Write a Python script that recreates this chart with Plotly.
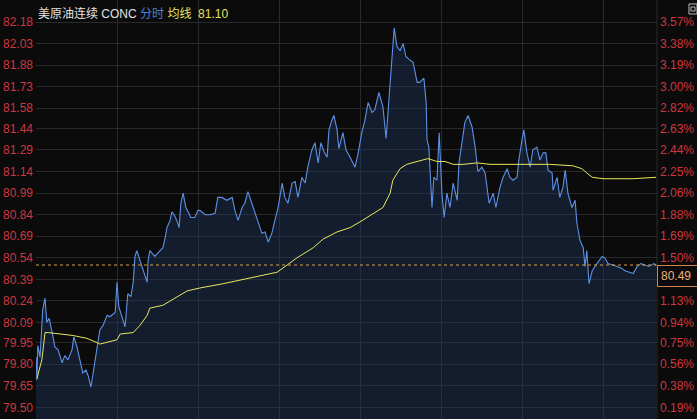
import plotly.graph_objects as go

# ---------------- data ----------------
title_name = "美原油连续 CONC"
mode_label = "分时"
avg_label = "均线"
avg_last = "81.10"
last_price = 80.49
session_minutes = 1380          # 23h session, minutes from open
grid_minutes = [180, 360, 540, 720, 900, 1080, 1260]

minutes = [
    0, 2, 4, 9, 15, 20, 24, 29, 36, 42,
    49, 58, 64, 71, 80, 84, 91, 98, 104, 111,
    116, 122, 127, 133, 138, 142, 149, 158, 164, 176,
    180, 184, 191, 198, 204, 211, 216, 220, 224, 231,
    238, 247, 249, 253, 264, 276, 282, 287, 291, 298,
    302, 307, 313, 318, 322, 327, 333, 338, 344, 353,
    360, 364, 376, 387, 398, 404, 413, 424, 436, 442,
    449, 458, 464, 471, 480, 487, 493, 502, 509, 516,
    524, 531, 538, 547, 553, 560, 569, 576, 582, 591,
    598, 604, 613, 620, 627, 633, 640, 647, 651, 658,
    662, 669, 673, 682, 689, 698, 709, 716, 724, 731,
    738, 747, 753, 762, 771, 778, 784, 791, 796, 802,
    809, 816, 822, 829, 838, 847, 853, 862, 867, 869,
    873, 880, 884, 891, 896, 902, 907, 913, 920, 927,
    936, 940, 947, 953, 960, 969, 976, 982, 991, 998,
    1007, 1016, 1022, 1031, 1038, 1047, 1053, 1060, 1069, 1073,
    1080, 1084, 1091, 1098, 1104, 1113, 1120, 1127, 1133, 1138,
    1147, 1149, 1158, 1164, 1171, 1176, 1182, 1191, 1198, 1202,
    1209, 1216, 1220, 1224, 1229, 1236, 1242, 1249, 1258, 1264,
    1271, 1282, 1291, 1300, 1309, 1320, 1327, 1336, 1344, 1353,
    1362, 1373, 1378,
]

prices = [
    79.85, 79.69, 79.93, 79.85, 80.18, 80.26, 80.09, 80.12, 80.02, 79.92,
    79.90, 79.81, 79.86, 79.83, 79.90, 79.99, 79.92, 79.83, 79.74, 79.76,
    79.72, 79.64, 79.74, 79.83, 79.95, 80.04, 80.07, 80.14, 80.13, 80.16,
    80.37, 80.20, 80.13, 80.06, 80.29, 80.27, 80.37, 80.55, 80.59, 80.52,
    80.45, 80.37, 80.52, 80.59, 80.55, 80.59, 80.61, 80.68, 80.75, 80.80,
    80.86, 80.84, 80.80, 80.75, 80.92, 80.99, 80.89, 80.86, 80.82, 80.82,
    80.87, 80.87, 80.84, 80.84, 80.85, 80.96, 80.96, 80.94, 80.96, 80.87,
    80.80, 80.89, 80.92, 81.00, 80.92, 80.85, 80.80, 80.71, 80.72, 80.65,
    80.71, 80.80, 80.89, 81.06, 80.96, 80.92, 81.06, 81.07, 80.96, 81.10,
    81.06, 81.17, 81.29, 81.34, 81.20, 81.34, 81.28, 81.24, 81.43, 81.50,
    81.53, 81.43, 81.30, 81.41, 81.29, 81.24, 81.17, 81.27, 81.41, 81.50,
    81.62, 81.55, 81.57, 81.69, 81.59, 81.37, 81.64, 81.90, 82.14, 82.01,
    81.98, 82.03, 81.94, 81.92, 81.90, 81.76, 81.76, 81.79, 81.62, 81.36,
    81.31, 80.89, 81.10, 81.08, 81.41, 80.99, 80.82, 80.99, 80.89, 81.06,
    80.94, 81.20, 81.36, 81.48, 81.53, 81.45, 81.31, 81.14, 81.17, 81.13,
    80.92, 80.99, 80.89, 81.03, 81.10, 81.16, 81.10, 81.08, 81.10, 81.22,
    81.36, 81.43, 81.27, 81.17, 81.29, 81.31, 81.22, 81.27, 81.27, 81.15,
    81.13, 81.01, 81.10, 80.96, 81.03, 81.15, 80.99, 80.89, 80.94, 80.78,
    80.66, 80.61, 80.48, 80.59, 80.36, 80.45, 80.48, 80.51, 80.55, 80.54,
    80.50, 80.49, 80.48, 80.47, 80.45, 80.44, 80.43, 80.48, 80.50, 80.49,
    80.48, 80.50, 80.49,
]

avg_minutes = [
    2, 13, 20, 27, 82, 113, 136, 142, 180, 187,
    216, 231, 247, 253, 282, 313, 336, 364, 416, 491,
    536, 558, 580, 616, 638, 669, 698, 720, 736, 749,
    771, 787, 793, 809, 824, 847, 871, 891, 909, 927,
    949, 980, 1009, 1047, 1142, 1193, 1213, 1224, 1236, 1260,
    1327, 1378,
]
avg_prices = [
    79.70, 79.83, 80.02, 80.02, 80.00, 79.98, 79.95, 79.94, 79.97, 80.01,
    80.02, 80.07, 80.14, 80.19, 80.21, 80.27, 80.31, 80.33, 80.36, 80.41,
    80.44, 80.49, 80.54, 80.61, 80.67, 80.72, 80.75, 80.79, 80.82, 80.85,
    80.89, 80.99, 81.08, 81.16, 81.19, 81.21, 81.23, 81.21, 81.21, 81.19,
    81.19, 81.20, 81.19, 81.19, 81.19, 81.18, 81.16, 81.13, 81.10, 81.09,
    81.09, 81.10,
]

price_ticks = [82.18, 82.03, 81.88, 81.73, 81.58, 81.44, 81.29, 81.14, 80.99, 80.84,
               80.69, 80.54, 80.39, 80.24, 80.09, 79.95, 79.80, 79.65, 79.50]
price_tick_text = ["82.18", "82.03", "81.88", "81.73", "81.58", "81.44", "81.29", "81.14", "80.99", "80.84",
                   "80.69", "80.54", "80.39", "80.24", "80.09", "79.95", "79.80", "79.65", "79.50"]
pct_tick_text = ["3.57%", "3.38%", "3.19%", "3.00%", "2.82%", "2.63%", "2.44%", "2.25%", "2.06%", "1.88%",
                 "1.69%", "1.50%", "", "1.13%", "0.94%", "0.75%", "0.56%", "0.38%", "0.19%"]

assert len(minutes) == len(prices)
assert len(avg_minutes) == len(avg_prices)

# ---------------- style ----------------
BG = "#0b0b0b"
GRID = "#2a2a2a"
RED = "#d0363e"
y_range = [79.419, 82.333]
font_fam = "Liberation Sans, Arial, Noto Sans CJK SC, sans-serif"

fig = go.Figure()
fig.add_trace(go.Scatter(
    x=minutes, y=prices, mode="lines",
    line=dict(color="#5d90e6", width=1.1),
    fill="tozeroy", fillcolor="rgba(34,56,92,0.42)",
    hoverinfo="skip", showlegend=False,
))
fig.add_trace(go.Scatter(
    x=avg_minutes, y=avg_prices, mode="lines",
    line=dict(color="#e8e85e", width=1),
    hoverinfo="skip", showlegend=False,
))
# carrier trace so the right-hand percentage axis is drawn
fig.add_trace(go.Scatter(
    x=[minutes[-1]], y=[prices[-1]], yaxis="y2", mode="markers",
    marker=dict(opacity=0), hoverinfo="skip", showlegend=False,
))

fig.update_layout(
    width=697, height=419,
    margin=dict(l=36, r=40, t=0, b=0),
    paper_bgcolor=BG, plot_bgcolor=BG,
    font=dict(family=font_fam, size=12, color=RED),
    showlegend=False,
    hovermode=False,
    xaxis=dict(range=[0, session_minutes], tickvals=grid_minutes, showticklabels=False,
               showgrid=True, gridcolor=GRID, gridwidth=1, zeroline=False, showline=False,
               ticks=""),
    yaxis=dict(range=y_range, tickvals=price_ticks, ticktext=price_tick_text,
               showgrid=True, gridcolor=GRID, gridwidth=1, zeroline=False, showline=False,
               ticks="", tickfont=dict(size=12, color=RED), ticklabelstandoff=2),
    yaxis2=dict(range=y_range, overlaying="y", side="right", tickvals=price_ticks,
                ticktext=pct_tick_text, showgrid=False, zeroline=False, showline=False,
                ticks="", tickfont=dict(size=12, color=RED), ticklabelstandoff=2),
)

shapes = [
    # last-price dashed reference
    dict(type="line", xref="paper", yref="y", x0=0, x1=1, y0=last_price, y1=last_price,
         line=dict(color="#d9a24a", width=1, dash="3px,3px")),
    # right border
    dict(type="line", xref="paper", yref="paper", x0=1, x1=1, y0=0, y1=1,
         line=dict(color=GRID, width=1)),
    # top-right icon
    dict(type="rect", xref="paper", yref="paper", x0=1.0515, x1=1.0644, y0=0.9666, y1=0.9905,
         line=dict(color="#bbbbbb", width=1)),
    dict(type="rect", xref="paper", yref="paper", x0=1.0547, x1=1.0612, y0=0.9737, y1=0.9833,
         line=dict(color="#bbbbbb", width=1)),
]
fig.update_layout(shapes=shapes)

header = (f'<span style="color:#e2e2e2">{title_name}</span> '
          f'<span style="color:#4f80d2">{mode_label}</span> '
          f'<span style="color:#e6e25a">{avg_label}</span>  '
          f'<span style="color:#e6e25a">{avg_last}</span>')
fig.add_annotation(xref="paper", yref="paper", x=0, y=1, xanchor="left", yanchor="top",
                   xshift=0, yshift=-4, text=header, showarrow=False,
                   font=dict(size=12, family=font_fam))
fig.add_annotation(xref="paper", yref="y", x=1, y=last_price, xanchor="left", yanchor="top",
                   text=f"{last_price:.2f}", showarrow=False, bordercolor="#d4844a",
                   borderwidth=1, bgcolor=BG, borderpad=3,
                   font=dict(size=12, color="#f0b07a", family=font_fam),
                   width=36, align="left")

fig.write_html(
    "out.html",
    config={"displayModeBar": False, "staticPlot": True},
    post_script="document.body.style.margin='0';document.body.style.background='#0b0b0b';",
)
